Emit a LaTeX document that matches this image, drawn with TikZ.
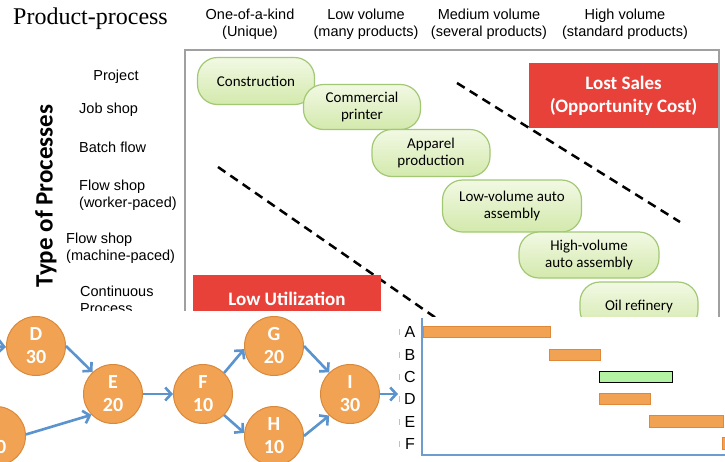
\documentclass[tikz,border=0pt]{standalone}
\usepackage{fontspec}
\setmainfont{Liberation Sans}
\newfontfamily\titlefont{Liberation Serif}
\newfontfamily\calfont{Carlito}
\usetikzlibrary{arrows.meta}
\definecolor{lsred}{HTML}{E8413A}
\definecolor{pilltop}{HTML}{F2F9E4}
\definecolor{pillbot}{HTML}{D3E9AC}
\definecolor{pillborder}{HTML}{A2C874}
\definecolor{netfill}{HTML}{F1A353}
\definecolor{netborder}{HTML}{D9893C}
\definecolor{arrblue}{HTML}{5A93CD}
\definecolor{axisblue}{HTML}{6D9CD0}
\definecolor{tickblue}{HTML}{A9C5E3}
\definecolor{framegray}{HTML}{A0A0A0}
\definecolor{barfill}{HTML}{F1A353}
\definecolor{barborder}{HTML}{E0883A}
\definecolor{greenbar}{HTML}{B2F2A2}
\begin{document}
\begin{tikzpicture}[x=1pt,y=-1pt,
  hdr/.style={align=center,inner sep=0pt,font=\fontsize{14.5}{17.5}\selectfont},
  rowlab/.style={align=left,inner sep=0pt,anchor=west,font=\fontsize{14.5}{17}\selectfont},
  pill/.style={rectangle,rounded corners=20pt,draw=pillborder,line width=1.2pt,
    top color=pilltop,bottom color=pillbot,align=center,inner sep=0pt,
    font=\calfont\fontsize{15}{17}\selectfont},
  redbox/.style={rectangle,fill=lsred,text=white,align=center,inner sep=0pt,
    font=\calfont\bfseries\fontsize{19}{23}\selectfont},
  dashline/.style={black,line width=2.5pt,dash pattern=on 9pt off 6pt},
  frameline/.style={framegray,line width=1.6pt},
  net/.style={circle,minimum size=59pt,inner sep=0pt,fill=netfill,draw=netborder,
    line width=1pt,text=white,align=center,font=\calfont\bfseries\fontsize{20}{23}\selectfont},
  arr/.style={arrblue,line width=2.6pt,-{Straight Barb[length=6pt,width=13pt]}},
  bar/.style={rectangle,anchor=north west,inner sep=0pt,fill=barfill,draw=barborder,line width=0.8pt},
  gbar/.style={rectangle,anchor=north west,inner sep=0pt,fill=greenbar,draw=black,line width=1pt},
  glab/.style={inner sep=0pt,font=\fontsize{16}{18}\selectfont},
  gtick/.style={tickblue,line width=1pt}
]
\useasboundingbox (0,0) rectangle (725,461);
\fill[white] (0,0) rectangle (725,461);

% ---------- top panel ----------
\node[anchor=base west,inner sep=0pt,font=\titlefont\fontsize{24}{28}\selectfont] (title) at (13,24) {Product-process};
\node[hdr] (h1) at (250,24) {One-of-a-kind\\(Unique)};
\node[hdr] (h2) at (366,24) {Low volume\\(many products)};
\node[hdr] (h3) at (489,24) {Medium volume\\(several products)};
\node[hdr] (h4) at (625,24) {High volume\\(standard products)};

\draw[frameline] (185,318) -- (185,50) -- (719,50) -- (719,318);

\node[inner sep=0pt,font=\fontsize{14.5}{17}\selectfont] (proj) at (116,77) {Project};
\node[rowlab] (job) at (79,110) {Job shop};
\node[rowlab] (batch) at (79,147) {Batch flow};
\node[rowlab] (fsw) at (79,195) {Flow shop\\(worker-paced)};
\node[rowlab] (fsm) at (66,248) {Flow shop\\(machine-paced)};
\node[rowlab] (cont) at (80,300) {Continuous\\Process};

\node[rotate=90,inner sep=0pt,font=\calfont\bfseries\fontsize{25}{28}\selectfont] (type) at (46,196) {Type of Processes};

\coordinate (u1) at (457,83);
\coordinate (u2) at (680,222);
\coordinate (l1) at (218,167);
\coordinate (l2) at (436,318);
\draw[dashline] (u1) -- (u2);
\draw[dashline] (l1) -- (l2);

\node[redbox,minimum width=189pt,minimum height=65pt] (lost) at (623.5,95.5) {Lost Sales\\(Opportunity Cost)};
\node[redbox,minimum width=188pt,minimum height=48pt,anchor=north] (lowu) at (287,275) {Low Utilization};

\node[pill,minimum width=117pt,minimum height=47pt] (cons) at (256,81) {Construction};
\node[pill,minimum width=117pt,minimum height=45pt] (comm) at (362,107) {Commercial\\printer};
\node[pill,minimum width=118pt,minimum height=47pt] (appa) at (431,153) {Apparel\\production};
\node[pill,minimum width=139pt,minimum height=52pt] (lowv) at (512,206) {Low-volume auto\\assembly};
\node[pill,minimum width=140pt,minimum height=46pt] (highv) at (589,255) {High-volume\\auto assembly};
\node[pill,minimum width=118pt,minimum height=48pt] (oil) at (639,306) {Oil refinery};

% ---------- network panel ----------
\fill[white] (0,311) rectangle (398,461);
\begin{scope}
\clip (0,311) rectangle (398,461);
\node[net] (C) at (-4,436) {\phantom{C}\\\phantom{0}0};
\node[net] (D) at (36,346) {D\\30};
\node[net] (E) at (113,394) {E\\20};
\node[net] (F) at (203,394) {F\\10};
\node[net] (G) at (274,346) {G\\20};
\node[net] (H) at (274,436) {H\\10};
\node[net] (I) at (350,394) {I\\30};
\coordinate (din) at (-30,344);
\coordinate (iout) at (398,394);
\draw[arr] (din) -- (D.182);
\draw[arr] (D.0) -- (E.133);
\draw[arr] (C.3) -- (E.-136);
\draw[arr] (E.east) -- (F.west);
\draw[arr] (F.45) -- (G.186);
\draw[arr] (F.-45) -- (H.174);
\draw[arr] (G.0) -- (I.134);
\draw[arr] (H.0) -- (I.-134);
\draw[arr] (I.east) -- (iout);
\end{scope}

% ---------- gantt panel ----------
\fill[white] (398,317) rectangle (725,461);
\node[glab] (ga) at (410,332) {A};
\node[glab] (gb) at (410,355) {B};
\node[glab] (gc) at (410,377) {C};
\node[glab] (gd) at (410,399) {D};
\node[glab] (ge) at (410,422) {E};
\node[glab] (gf) at (410,444) {F};
\foreach \yy in {332,355,377,399,422,444} \draw[gtick] (399,\yy-3) -- (399,\yy+3);
\draw[axisblue,line width=2pt] (422,318) -- (422,455) -- (725,455);
\node[bar,minimum width=127pt,minimum height=11pt] (ba) at (423,326) {};
\node[bar,minimum width=51pt,minimum height=11pt] (bb) at (549,349) {};
\node[gbar,minimum width=73pt,minimum height=11pt] (bc) at (599,371) {};
\node[bar,minimum width=51pt,minimum height=11pt] (bd) at (599,393) {};
\node[bar,minimum width=74pt,minimum height=12pt] (be) at (649,415) {};
\node[bar,minimum width=20pt,minimum height=12pt] (bf) at (722,437) {};
\end{tikzpicture}
\end{document}
